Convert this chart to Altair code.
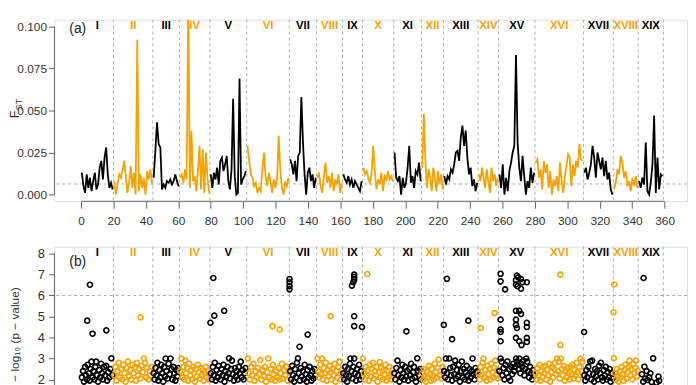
import altair as alt
import pandas as pd

ORANGE = "#F5A300"
BLACK = "#000000"
GRID = "#A9AFBA"
HLINE = "#AAAAAA"
AXIS = "#666666"
LABEL = "#333333"
FONT = "Liberation Sans"

chrom_names = ["I", "II", "III", "IV", "V", "VI", "VII", "VIII", "IX", "X",
               "XI", "XII", "XIII", "XIV", "XV", "XVI", "XVII", "XVIII", "XIX"]
chrom_bounds = [0, 20, 44.3, 60.7, 79.5, 102.2, 128.5, 145.3, 161.3, 173.6, 192.9,
                210, 223.6, 244.9, 257.6, 280, 309.9, 328.3, 343.7, 359.2]
x_ticks = list(range(0, 361, 20))
fst_ticks = [0, 0.025, 0.05, 0.075, 0.1]
fst_axis_span = [0, 0.1]
p_ticks = [2, 3, 4, 5, 6, 7, 8]
p_axis_span = [0, 8]
fst_threshold = 0.0063
p_threshold = 6

# ---- panel (a): sliding-window FST per chromosome ----
fst_I = [0.013, 0.005, 0.001, 0.012, 0.004, 0.010, 0.002, 0.008, 0.013, 0.003,
         0.006, 0.016, 0.020, 0.009, 0.022, 0.028, 0.012, 0.004, 0.007, 0.003]
fst_II = [0.008, 0.000, 0.006, 0.012, 0.010, 0.014, 0.020, 0.011, 0.001, 0.007, 0.017, 0.004,
          0.013, 0.000, 0.092, 0.002, 0.012, 0.004, 0.010, 0.000, 0.014, 0.009, 0.015, 0.006]
fst_III = [0.010, 0.026, 0.043, 0.030, 0.028, 0.003, 0.006, 0.004, 0.008, 0.007,
           0.009, 0.006, 0.008, 0.012, 0.008, 0.005]
fst_IV = [0.010, 0.012, 0.007, 0.015, 0.009, 0.115, 0.004, 0.038, 0.008, 0.010,
          0.002, 0.014, 0.029, 0.003, 0.027, 0.001, 0.025, 0.010, 0.001]
fst_V = [0.012, 0.004, 0.013, 0.009, 0.016, 0.006, 0.020, 0.022, 0.014, 0.018, 0.023, 0.008,
         0.003, 0.015, 0.057, 0.011, 0.000, 0.001, 0.069, 0.006, 0.009, 0.011, 0.014]
fst_VI = [0.029, 0.020, 0.012, 0.010, 0.005, 0.007, 0.001, 0.004, 0.002, 0.015, 0.025, 0.011, 0.005,
          0.013, 0.008, 0.001, 0.009, 0.004, 0.010, 0.035, 0.014, 0.004, 0.000, 0.008, 0.005, 0.010]
fst_VII = [0.021, 0.018, 0.012, 0.020, 0.008, 0.023, 0.025, 0.058, 0.031, 0.012,
           0.000, 0.013, 0.016, 0.008, 0.012, 0.004, 0.010]
fst_VIII = [0.010, 0.013, 0.005, 0.001, 0.011, 0.019, 0.007, 0.011, 0.004, 0.013,
            0.002, 0.009, 0.006, 0.012, 0.001, 0.007]
fst_IX = [0.012, 0.009, 0.007, 0.011, 0.006, 0.009, 0.004, 0.008, 0.006, 0.004, 0.002, 0.008]
fst_X = [0.016, 0.012, 0.014, 0.010, 0.007, 0.012, 0.029, 0.014, 0.003, 0.009,
         0.006, 0.013, 0.002, 0.012, 0.008, 0.014, 0.009, 0.011, 0.008]
fst_XI = [0.025, 0.010, 0.008, 0.011, 0.000, 0.010, 0.004, 0.007, 0.016, 0.029,
          0.007, 0.011, 0.004, 0.014, 0.012, 0.019, 0.008]
fst_XII = [0.016, 0.048, 0.020, 0.004, 0.015, 0.010, 0.002, 0.016, 0.010, 0.002,
           0.014, 0.006, 0.012, 0.003]
fst_XIII = [0.011, 0.006, 0.011, 0.009, 0.015, 0.013, 0.018, 0.025, 0.026, 0.020, 0.034,
            0.041, 0.029, 0.038, 0.022, 0.012, 0.016, 0.005, 0.009, 0.002, 0.007]
fst_XIV = [0.012, 0.008, 0.016, 0.010, 0.004, 0.015, 0.008, 0.001, 0.016, 0.008,
           0.012, 0.005, 0.010]
fst_XV = [0.012, 0.004, 0.018, 0.000, 0.010, 0.002, 0.014, 0.019, 0.025, 0.029, 0.083,
          0.031, 0.016, 0.008, 0.023, 0.011, 0.000, 0.008, 0.004, 0.016, 0.007, 0.013]
fst_XVI = [0.019, 0.021, 0.010, 0.015, 0.003, 0.020, 0.013, 0.018, 0.004, 0.014,
           0.000, 0.009, 0.005, 0.011, 0.002, 0.019, 0.008, 0.001, 0.011, 0.017,
           0.024, 0.022, 0.005, 0.018, 0.011, 0.020, 0.016, 0.030, 0.021, 0.020]
fst_XVII = [0.013, 0.016, 0.009, 0.013, 0.018, 0.029, 0.022, 0.010, 0.025,
            0.020, 0.015, 0.022, 0.011, 0.020, 0.009, 0.013, 0.003, 0.000]
fst_XVIII = [0.003, 0.007, 0.015, 0.012, 0.023, 0.019, 0.010, 0.014, 0.005, 0.008,
             0.002, 0.010, 0.005, 0.011, 0.004]
fst_XIX = [0.008, 0.004, 0.010, 0.006, 0.031, 0.002, 0.000, 0.007, 0.018, 0.047,
           0.001, 0.022, 0.003, 0.012, 0.011]

# ---- panel (b): (position, -log10 p) per chromosome ----
pts_I = [(0.5, 2.1), (1.2, 2.4), (1.8, 1.9), (2.5, 2.6), (3.0, 2.2), (3.6, 2.0), (4.1, 2.7), (4.8, 2.3),
         (5.3, 1.95), (5.9, 2.5), (6.4, 2.85), (7.0, 2.1), (7.6, 2.4), (8.2, 2.0), (8.8, 2.6), (9.3, 2.85),
         (9.9, 2.2), (10.5, 1.9), (11.2, 2.45), (11.8, 2.1), (12.4, 2.75), (13.0, 2.3), (13.6, 2.0),
         (14.2, 2.6), (14.9, 2.2), (15.5, 2.65), (16.1, 1.95), (16.8, 2.35), (17.4, 2.1), (18.1, 2.5),
         (18.7, 3.01), (19.3, 2.2), (3.8, 4.80), (5.5, 6.51), (7.1, 4.18), (15.6, 4.34)]
pts_II = [(20.5, 2.2), (21.2, 2.6), (21.9, 1.95), (22.6, 2.4), (23.3, 2.8), (24.0, 2.1), (24.7, 2.5),
          (25.4, 2.0), (26.1, 2.7), (26.8, 2.3), (27.5, 1.9), (28.2, 2.55), (28.9, 2.85), (29.6, 2.15),
          (30.3, 2.45), (31.0, 2.0), (31.7, 2.7), (32.4, 2.3), (33.1, 2.6), (33.8, 1.95), (34.5, 2.8),
          (35.2, 2.2), (35.9, 2.5), (36.6, 2.05), (37.3, 2.65), (38.0, 2.35), (38.8, 3.0), (39.5, 2.8),
          (40.2, 2.1), (40.9, 2.55), (41.6, 2.0), (42.3, 2.4), (43.0, 2.2), (43.7, 2.6), (36.7, 4.96)]
pts_III = [(44.8, 2.3), (45.4, 2.0), (46.0, 2.55), (46.6, 2.2), (47.1, 2.8), (47.7, 1.95), (48.3, 2.45),
           (48.9, 2.1), (49.5, 2.7), (50.1, 2.3), (50.7, 1.9), (51.3, 2.6), (51.9, 2.15), (52.2, 3.0),
           (52.8, 2.4), (53.4, 2.05), (54.0, 2.75), (54.6, 2.25), (55.2, 3.0), (55.8, 2.5), (56.4, 2.0),
           (57.0, 2.6), (57.6, 2.3), (58.2, 1.95), (58.8, 2.45), (59.4, 2.15), (60.0, 2.55), (55.8, 4.45)]
pts_IV = [(61.2, 2.4), (61.9, 3.0), (62.5, 2.1), (63.1, 2.6), (63.7, 2.0), (64.3, 2.9), (64.9, 2.3),
          (65.5, 2.55), (66.1, 1.95), (66.7, 2.75), (67.3, 2.2), (67.9, 2.45), (68.5, 2.0), (69.1, 2.6),
          (69.7, 2.3), (70.3, 1.9), (70.9, 2.5), (71.5, 2.15), (72.1, 2.7), (72.7, 2.35), (73.3, 2.05),
          (73.9, 2.55), (74.5, 2.2), (75.1, 2.45), (75.7, 1.95), (76.3, 2.3), (76.9, 2.6), (77.5, 2.1),
          (78.1, 2.4), (78.7, 2.0), (79.2, 2.25)]
pts_V = [(80.1, 2.3), (80.7, 2.0), (81.3, 2.6), (81.9, 2.2), (82.5, 2.8), (83.1, 1.95), (83.7, 2.45),
         (84.3, 2.1), (84.9, 2.65), (85.5, 2.3), (86.1, 2.0), (86.7, 2.5), (87.3, 2.2), (87.9, 2.7),
         (88.5, 1.9), (89.1, 2.4), (89.7, 2.15), (90.3, 2.6), (90.9, 2.3), (91.3, 3.01), (91.9, 2.05),
         (92.5, 2.5), (93.1, 2.9), (93.7, 2.25), (94.3, 1.95), (94.9, 2.55), (95.5, 2.15), (96.1, 2.4),
         (96.7, 2.0), (97.3, 2.6), (97.9, 2.3), (98.5, 2.85), (99.1, 2.1), (99.7, 2.45), (100.3, 2.0),
         (100.9, 2.3), (101.5, 2.55), (79.8, 4.70), (81.6, 6.83), (82.2, 5.04), (88.3, 5.27)]
pts_VI = [(102.9, 3.0), (103.5, 2.3), (104.2, 2.0), (104.9, 2.6), (105.6, 2.2), (106.3, 2.75), (107.0, 1.95),
          (107.7, 2.4), (108.4, 2.1), (109.1, 2.55), (109.8, 2.25), (110.6, 2.93), (111.3, 2.0), (112.0, 2.45),
          (112.7, 2.15), (113.4, 2.6), (114.1, 1.9), (114.8, 2.35), (115.5, 3.0), (116.2, 2.1), (116.9, 2.5),
          (117.6, 2.0), (118.3, 2.7), (119.0, 2.25), (119.7, 1.95), (120.4, 2.4), (121.1, 2.1), (121.8, 2.55),
          (122.5, 2.0), (123.2, 2.3), (123.9, 2.75), (124.6, 2.05), (125.3, 2.45), (126.0, 2.2), (126.7, 2.6),
          (127.4, 1.95), (128.1, 2.35), (118.1, 4.54), (122.6, 4.38)]
pts_VII = [(129.0, 2.4), (129.6, 2.0), (130.2, 2.65), (130.8, 2.2), (131.4, 1.9), (132.0, 2.5), (132.6, 2.1),
           (133.2, 2.8), (133.8, 3.01), (134.4, 2.3), (135.0, 1.95), (135.6, 2.55), (136.2, 2.15), (136.8, 2.4),
           (137.4, 2.0), (138.0, 2.7), (138.6, 2.25), (139.2, 1.9), (139.8, 2.45), (140.4, 2.1), (141.0, 2.6),
           (141.6, 2.2), (142.2, 1.95), (142.8, 2.4), (143.4, 2.05), (144.0, 2.5), (144.6, 2.2),
           (128.6, 6.78), (128.6, 6.63), (128.6, 6.44), (128.6, 6.29), (134.8, 3.56), (139.8, 4.14)]
pts_VIII = [(145.9, 3.0), (146.4, 2.4), (147.0, 2.1), (147.6, 2.7), (148.1, 2.25), (148.6, 3.0), (149.2, 2.0),
            (149.8, 2.55), (150.4, 2.3), (151.0, 2.8), (151.6, 1.95), (152.2, 2.45), (152.8, 2.15), (153.4, 2.65),
            (154.0, 2.35), (154.6, 2.0), (155.2, 2.5), (155.8, 2.2), (156.4, 2.75), (157.0, 1.9), (157.6, 2.4),
            (158.2, 2.1), (158.8, 2.6), (159.4, 2.85), (160.0, 2.25), (160.6, 2.0), (161.0, 2.45), (154.0, 5.01)]
pts_IX = [(161.7, 2.3), (162.3, 2.0), (162.9, 2.6), (163.5, 2.2), (164.1, 1.9), (164.7, 2.5), (165.3, 2.15),
          (165.9, 2.75), (166.2, 3.0), (166.8, 2.4), (167.4, 2.05), (168.0, 2.6), (168.5, 3.0), (169.1, 2.3),
          (169.7, 1.95), (170.3, 2.5), (170.9, 2.2), (171.5, 2.7), (172.1, 2.0), (172.7, 2.4), (173.3, 2.15),
          (168.5, 6.99), (168.5, 6.88), (168.5, 6.75), (167.9, 6.63), (167.1, 6.47), (168.5, 5.01),
          (168.5, 4.54), (173.3, 4.50)]
pts_X = [(173.9, 3.0), (174.5, 2.3), (175.1, 2.0), (175.7, 2.6), (176.3, 2.2), (176.9, 2.45), (177.5, 1.95),
         (178.1, 2.7), (178.7, 2.15), (179.3, 2.5), (180.0, 2.8), (180.6, 2.05), (181.2, 2.4), (181.8, 2.2),
         (182.4, 2.6), (183.0, 1.9), (183.6, 2.35), (184.2, 2.83), (184.8, 2.1), (185.4, 2.55), (186.0, 2.0),
         (186.6, 2.45), (187.2, 2.25), (187.8, 2.7), (188.4, 1.95), (189.0, 2.4), (189.6, 2.1), (190.2, 2.6),
         (190.8, 2.2), (191.4, 2.0), (192.0, 2.45), (192.6, 2.3), (176.6, 7.02)]
pts_XI = [(193.3, 2.3), (193.9, 2.0), (194.5, 2.55), (195.2, 2.9), (195.8, 2.2), (196.4, 1.9), (197.0, 2.45),
          (197.6, 2.1), (198.2, 2.7), (198.8, 2.3), (199.4, 2.0), (200.0, 2.6), (200.6, 2.15), (201.2, 2.4),
          (201.8, 1.95), (202.4, 2.5), (203.0, 2.2), (203.6, 2.75), (204.2, 2.05), (204.8, 2.35), (205.4, 2.6),
          (206.0, 2.1), (206.6, 1.9), (207.4, 3.01), (208.0, 2.4), (208.6, 2.2), (209.2, 2.5), (209.7, 2.0),
          (200.7, 4.29)]
pts_XII = [(210.4, 2.3), (211.0, 2.0), (211.6, 2.5), (212.2, 2.15), (212.8, 1.9), (213.4, 2.4), (214.0, 2.1),
           (214.6, 2.65), (215.2, 2.25), (215.8, 1.95), (216.4, 2.5), (217.0, 2.2), (217.6, 2.0), (218.2, 2.75),
           (218.8, 2.35), (219.4, 2.1), (220.0, 2.55), (220.6, 2.95), (221.2, 2.2), (221.8, 2.4), (222.4, 2.05),
           (223.0, 2.6)]
pts_XIII = [(224.0, 2.4), (224.6, 2.1), (225.1, 3.0), (225.7, 2.3), (226.3, 2.0), (227.1, 3.0), (227.7, 2.55),
            (228.3, 2.2), (228.9, 1.95), (229.5, 2.6), (230.1, 2.25), (230.7, 2.9), (231.3, 2.05), (231.9, 2.45),
            (232.5, 2.15), (233.1, 2.7), (233.7, 1.9), (234.3, 2.4), (234.9, 2.86), (235.5, 2.1), (236.1, 2.5),
            (236.7, 2.0), (237.3, 2.35), (237.9, 2.65), (238.5, 2.2), (239.1, 1.95), (239.7, 2.5), (240.3, 2.1),
            (240.9, 2.4), (241.5, 3.0), (242.1, 2.25), (242.7, 2.0), (243.3, 2.55), (243.9, 2.2), (244.5, 2.4),
            (225.7, 6.79), (223.8, 4.60), (228.9, 3.92), (238.9, 4.80)]
pts_XIV = [(245.3, 2.3), (245.9, 2.0), (246.5, 2.6), (247.1, 2.2), (247.7, 2.8), (248.3, 3.0), (248.9, 2.1),
           (249.5, 2.45), (250.1, 1.95), (250.7, 2.65), (251.3, 2.25), (251.9, 2.5), (252.5, 2.0), (253.1, 2.75),
           (253.7, 2.35), (254.3, 2.1), (254.9, 2.55), (255.5, 2.9), (256.1, 2.2), (256.7, 2.45), (257.3, 2.05),
           (246.6, 4.45), (255.1, 5.16)]
pts_XV = [(258.0, 2.4), (258.8, 3.0), (259.4, 2.85), (260.0, 2.2), (260.6, 2.55), (261.2, 2.0), (261.8, 2.7),
          (262.4, 2.3), (263.0, 2.86), (263.6, 2.1), (264.2, 2.5), (264.8, 1.95), (265.4, 2.6), (266.0, 2.25),
          (266.6, 2.75), (267.2, 2.4), (267.8, 2.6), (268.4, 3.0), (268.9, 2.85), (269.5, 2.7), (270.1, 2.5),
          (270.4, 3.0), (271.0, 2.3), (271.6, 2.75), (272.2, 2.6), (272.8, 2.9), (273.4, 2.2), (274.0, 2.5),
          (274.6, 3.0), (275.2, 2.85), (275.8, 2.4), (276.4, 2.1), (277.0, 2.6), (277.6, 2.3), (278.2, 2.0),
          (278.8, 2.45), (279.4, 2.2),
          (258.8, 7.03), (258.8, 6.67), (261.6, 6.29), (258.8, 4.85), (258.8, 4.38), (258.8, 4.26),
          (258.8, 3.82), (268.3, 5.27), (270.3, 5.27), (271.4, 5.12), (268.3, 4.85), (268.3, 4.60),
          (275.0, 4.70), (268.9, 4.45), (275.0, 4.50), (268.3, 3.98), (275.0, 3.98), (275.0, 3.79),
          (270.3, 3.82), (271.7, 3.64), (268.9, 6.95), (269.7, 6.86), (268.3, 6.72), (271.4, 6.78),
          (272.3, 6.63), (275.0, 6.63), (269.3, 6.44), (271.4, 6.32), (268.3, 6.52)]
pts_XVI = [(280.4, 2.3), (281.0, 2.0), (281.6, 2.55), (282.2, 2.2), (282.8, 2.7), (283.4, 1.95), (284.0, 2.4),
           (284.6, 2.1), (285.2, 2.6), (285.8, 2.3), (286.4, 2.65), (287.0, 2.0), (287.6, 2.45), (288.2, 2.2),
           (288.8, 2.75), (289.4, 1.9), (290.0, 2.35), (290.6, 2.6), (291.2, 2.1), (291.8, 2.5), (292.4, 2.8),
           (293.0, 2.25), (293.6, 3.0), (294.2, 2.4), (294.8, 2.85), (295.4, 2.05), (296.0, 3.0), (296.6, 2.5),
           (297.2, 2.2), (297.8, 2.65), (298.4, 1.95), (299.0, 2.4), (299.6, 2.1), (300.2, 2.55), (300.8, 2.3),
           (301.4, 2.0), (302.0, 2.6), (302.6, 2.25), (303.2, 2.7), (303.8, 2.05), (304.4, 2.45), (305.0, 2.2),
           (305.6, 2.8), (306.2, 2.35), (306.8, 2.0), (307.4, 2.6), (308.0, 3.0), (308.6, 2.4), (309.2, 2.85),
           (309.7, 2.2), (295.7, 6.99), (295.7, 3.64)]
pts_XVII = [(310.5, 2.2), (311.1, 1.95), (311.7, 2.45), (312.3, 2.1), (312.9, 2.6), (313.5, 2.3), (314.1, 2.86),
            (314.7, 2.0), (315.3, 2.9), (315.9, 2.25), (316.5, 1.9), (317.1, 2.5), (317.7, 2.15), (318.3, 2.4),
            (318.9, 2.0), (319.5, 2.65), (320.1, 2.3), (320.7, 2.8), (321.3, 2.1), (321.9, 1.95), (322.5, 2.45),
            (323.1, 2.2), (323.7, 2.6), (324.3, 2.0), (324.9, 2.35), (325.5, 2.1), (326.1, 2.5), (326.7, 1.9),
            (327.3, 2.3), (327.9, 2.05), (310.3, 4.26)]
pts_XVIII = [(328.7, 3.01), (329.3, 2.3), (329.9, 2.0), (330.5, 2.5), (331.1, 2.15), (331.7, 1.9), (332.3, 2.4),
             (332.9, 2.1), (333.5, 2.6), (334.1, 2.25), (334.7, 1.95), (335.3, 2.45), (335.9, 2.7), (336.5, 2.05),
             (337.1, 2.35), (337.7, 2.6), (338.3, 2.9), (338.9, 2.2), (339.5, 2.5), (340.1, 2.0), (340.7, 2.75),
             (341.3, 2.3), (341.9, 2.55), (342.3, 2.9), (342.9, 2.15), (343.4, 2.4), (328.9, 6.52), (328.5, 5.20)]
pts_XIX = [(346.0, 2.25), (347.5, 2.61), (348.9, 2.40), (349.5, 1.98), (346.8, 1.9), (350.5, 2.1),
           (352.0, 1.88), (356.2, 2.14), (356.6, 1.94), (355.0, 1.85), (348.0, 2.05), (351.2, 2.3),
           (347.0, 6.83), (352.9, 3.01)]

fst_series = [fst_I, fst_II, fst_III, fst_IV, fst_V, fst_VI, fst_VII, fst_VIII, fst_IX, fst_X,
              fst_XI, fst_XII, fst_XIII, fst_XIV, fst_XV, fst_XVI, fst_XVII, fst_XVIII, fst_XIX]
pts_series = [pts_I, pts_II, pts_III, pts_IV, pts_V, pts_VI, pts_VII, pts_VIII, pts_IX, pts_X,
              pts_XI, pts_XII, pts_XIII, pts_XIV, pts_XV, pts_XVI, pts_XVII, pts_XVIII, pts_XIX]


def chrom_color(i):
    return BLACK if i % 2 == 0 else ORANGE


fst_rows, pt_rows, lab_rows = [], [], []
for i, name in enumerate(chrom_names):
    s, e = chrom_bounds[i], chrom_bounds[i + 1]
    vals = fst_series[i]
    n = len(vals)
    for j, v in enumerate(vals):
        fst_rows.append({"chrom": name, "pos": s + (e - s) * (j + 0.5) / n, "fst": v, "col": chrom_color(i)})
    for p, v in pts_series[i]:
        pt_rows.append({"chrom": name, "pos": p, "logp": v, "col": chrom_color(i)})
    lab_rows.append({"name": name, "mid": (s + e) / 2, "col": chrom_color(i)})

fst_df = pd.DataFrame(fst_rows)
pt_df = pd.DataFrame(pt_rows)
lab_df = pd.DataFrame(lab_rows)
bnd_df = pd.DataFrame({"b": chrom_bounds[1:]})
one_df = pd.DataFrame({"k": [0]})

W, H = 641, 184
xs = alt.Scale(domain=[-16.44, 373.8], nice=False, zero=False)
xax_a = alt.Axis(values=x_ticks, domain=False, grid=False, tickSize=7, tickColor=AXIS, tickWidth=1,
                 labelColor=LABEL, labelFont=FONT, labelFontSize=12, labelPadding=8,
                 labelFlush=False, labelOverlap=False, title=None)
# bottom axis of panel (b) lies below the visible window: ticks only
xax_b = alt.Axis(values=x_ticks, domain=False, grid=False, tickSize=7, tickColor=AXIS, tickWidth=1,
                 labels=False, title=None)


def make_panel(xax, y_scale, y_axis, y_span, thr, top_val, data_layer, letter, letter_y, ytitle_layers):
    vlines = alt.Chart(bnd_df).mark_rule(color=GRID, strokeDash=[3, 3], strokeWidth=1).encode(
        x=alt.X("b:Q", scale=xs, axis=xax))
    hline = alt.Chart(one_df).mark_rule(color=HLINE, strokeDash=[3, 3], strokeWidth=1).encode(
        y=alt.YDatum(thr, scale=y_scale, axis=y_axis))
    yline = alt.Chart(one_df).mark_rule(color=AXIS, strokeWidth=1).encode(
        x=alt.value(0),
        y=alt.YDatum(y_span[0], scale=y_scale, axis=y_axis),
        y2=alt.Y2Datum(y_span[1]))
    xline = alt.Chart(one_df).mark_rule(color=AXIS, strokeWidth=1).encode(
        x=alt.XDatum(x_ticks[0], scale=xs, axis=xax), x2=alt.X2Datum(x_ticks[-1]), y=alt.value(H))
    labels = alt.Chart(lab_df).mark_text(font=FONT, fontSize=11.5, fontWeight="bold",
                                         align="center", baseline="middle").encode(
        x=alt.X("mid:Q", scale=xs, axis=xax),
        y=alt.YDatum(top_val, scale=y_scale, axis=y_axis),
        text="name:N",
        color=alt.Color("col:N", scale=None))
    tag = alt.Chart(one_df).mark_text(font=FONT, fontSize=14, color="#222222",
                                      align="center", baseline="middle").encode(
        x=alt.value(23.7), y=alt.value(letter_y), text=alt.value(letter))
    return alt.layer(vlines, hline, data_layer, yline, xline, labels, tag, *ytitle_layers).properties(
        width=W, height=H)


# panel a
ys_a = alt.Scale(domain=[-0.004, 0.104], nice=False, zero=False)
yax_a = alt.Axis(values=fst_ticks, format=".3f", domain=False, grid=False, tickSize=6, tickColor=AXIS,
                 labelColor=LABEL, labelFont=FONT, labelFontSize=12, labelPadding=2,
                 labelFlush=False, title=None)
line_a = alt.Chart(fst_df).mark_line(strokeWidth=1.8, clip=True).encode(
    x=alt.X("pos:Q", scale=xs, axis=xax_a),
    y=alt.Y("fst:Q", scale=ys_a, axis=yax_a),
    color=alt.Color("col:N", scale=None),
    detail="chrom:N")
title_a = [
    alt.Chart(one_df).mark_text(font=FONT, fontSize=12.5, color=LABEL, angle=270,
                                align="center", baseline="middle").encode(
        x=alt.value(-40), y=alt.value(96), text=alt.value("F")),
    alt.Chart(one_df).mark_text(font=FONT, fontSize=9, color=LABEL, angle=270,
                                align="center", baseline="middle").encode(
        x=alt.value(-36), y=alt.value(86), text=alt.value("ST")),
]
panel_a = make_panel(xax_a, ys_a, yax_a, fst_axis_span, fst_threshold, 0.1, line_a, "(a)", 9, title_a)

# panel b
ys_b = alt.Scale(domain=[-0.32, 8.32], nice=False, zero=False)
yax_b = alt.Axis(values=p_ticks, format="d", domain=False, grid=False, tickSize=6, tickColor=AXIS,
                 labelColor=LABEL, labelFont=FONT, labelFontSize=13, labelPadding=4,
                 labelFlush=False, title=None)
pts_b = alt.Chart(pt_df).mark_point(shape="circle", filled=False, size=26, strokeWidth=1.6,
                                    opacity=1, clip=True).encode(
    x=alt.X("pos:Q", scale=xs, axis=xax_b),
    y=alt.Y("logp:Q", scale=ys_b, axis=yax_b),
    color=alt.Color("col:N", scale=None))
title_b = [
    alt.Chart(one_df).mark_text(font=FONT, fontSize=12, color=LABEL, angle=270,
                                align="center", baseline="middle").encode(
        x=alt.value(-40), y=alt.value(89), text=alt.value("\u2212 log\u2081\u2080 (p \u2212 value)")),
]
panel_b = make_panel(xax_b, ys_b, yax_b, p_axis_span, p_threshold, 8, pts_b, "(b)", 15.7, title_b)

chart = alt.vconcat(panel_a, panel_b, spacing=46, bounds="flush").properties(
    padding={"left": 0, "top": 8, "right": 0, "bottom": 0}
).configure_view(stroke=None).configure(background="white")

chart.save("out.html", embed_options={"renderer": "svg", "actions": False})
